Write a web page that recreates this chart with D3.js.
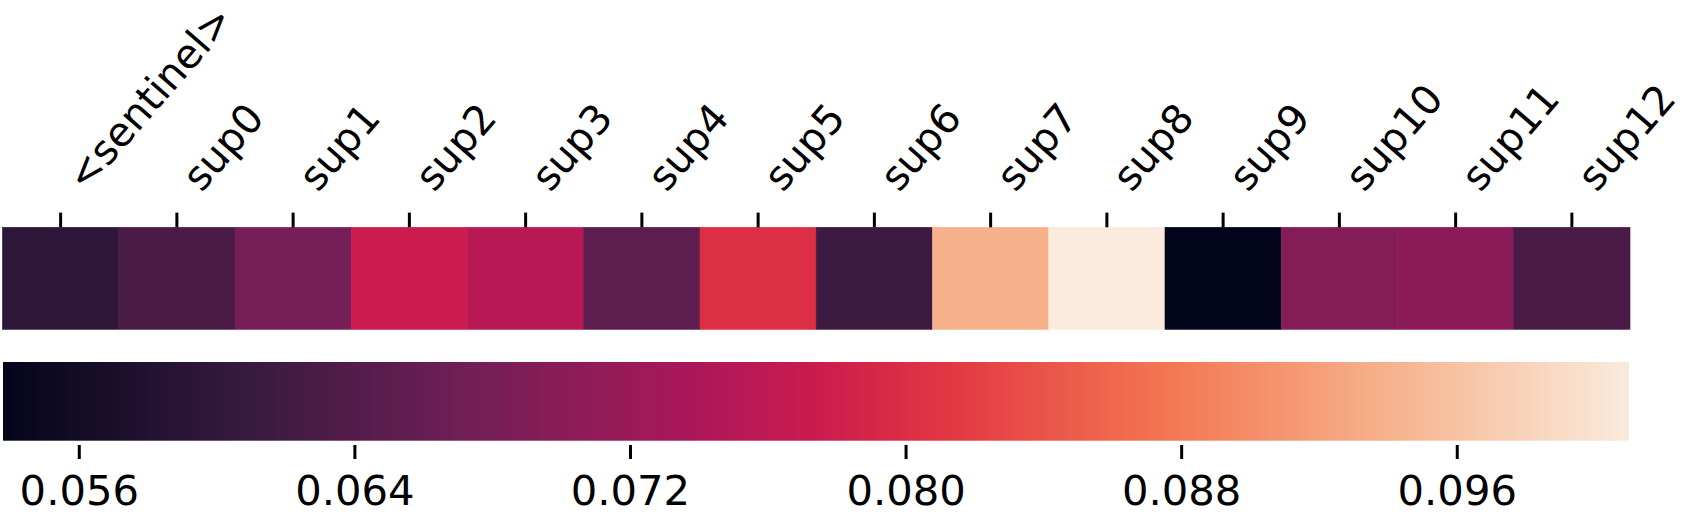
<!DOCTYPE html>
<html>
<head>
<meta charset="utf-8">
<script src="https://cdn.jsdelivr.net/npm/d3@7"></script>
<style>
  body { margin: 0; background: #fff; }
  text { font-family: "DejaVu Sans", sans-serif; fill: #000; }
</style>
</head>
<body>
<div id="wrapper"></div>
<script>
// Data
const labels = ["<sentinel>", "sup0", "sup1", "sup2", "sup3", "sup4", "sup5",
  "sup6", "sup7", "sup8", "sup9", "sup10", "sup11", "sup12"]
const values = [0.0595, 0.0630, 0.0680, 0.0774, 0.0753, 0.0652, 0.0800,
  0.0613, 0.0939, 0.1010, 0.0538, 0.0695, 0.0703, 0.0628]
const colorbarTicks = [0.056, 0.064, 0.072, 0.080, 0.088, 0.096]
const vMin = 0.0538
const vMax = 0.1010

// rocket colormap, sampled
const rocketStops = [0, 1 / 7, 2 / 7, 3 / 7, 0.5, 4 / 7, 5 / 7, 6 / 7, 1]
const rocketColors = ["#03051A", "#35193E", "#701F57", "#AD1759", "#CB1B4F",
  "#E13342", "#F37651", "#F6B48F", "#FAEBDD"]

// dimensions
const dimensions = {
  width: 1682,
  height: 517,
  left: 2.5,
  right: 1630,
  heatTop: 227.3,
  heatBottom: 329.3,
  barTop: 362,
  barBottom: 440.7,
  fontSize: 41.7,
  labelSize: 40.5,
}

const svg = d3.select("#wrapper")
  .append("svg")
    .attr("width", dimensions.width)
    .attr("height", dimensions.height)

// scales
const xScale = d3.scaleBand()
  .domain(labels)
  .range([dimensions.left, dimensions.right])
  .padding(0)

const colorScale = d3.scaleLinear()
  .domain(rocketStops.map(t => vMin + t * (vMax - vMin)))
  .range(rocketColors)
  .interpolate(d3.interpolateRgb)

const barScale = d3.scaleLinear()
  .domain([vMin, vMax])
  .range([dimensions.left + 0.5, dimensions.right - 1])

// draw data
svg.append("g")
  .selectAll("rect")
  .data(labels)
  .join("rect")
    .attr("x", d => xScale(d))
    .attr("y", dimensions.heatTop)
    .attr("width", xScale.bandwidth())
    .attr("height", dimensions.heatBottom - dimensions.heatTop)
    .attr("fill", (d, i) => colorScale(values[i]))
    .attr("stroke", (d, i) => colorScale(values[i]))
    .attr("stroke-width", 0.6)

// top axis with rotated labels
const topAxis = svg.append("g")
  .attr("transform", `translate(0, ${dimensions.heatTop})`)
  .call(d3.axisTop(xScale).tickSize(14.7).tickSizeOuter(0))
topAxis.select(".domain").remove()
topAxis.selectAll(".tick line")
  .attr("stroke", "#000")
  .attr("stroke-width", 3)
topAxis.selectAll(".tick text")
  .attr("x", 0)
  .attr("y", 0)
  .attr("dy", 0)
  .attr("transform", "translate(24.5, -34) rotate(-49)")
  .attr("text-anchor", "start")
  .style("font-size", `${dimensions.labelSize}px`)
  .style("font-family", "DejaVu Sans")

// colorbar
const gradient = svg.append("defs")
  .append("linearGradient")
    .attr("id", "rocket")
    .attr("x1", "0%")
    .attr("x2", "100%")
gradient.selectAll("stop")
  .data(d3.range(0, 1.0001, 0.02))
  .join("stop")
    .attr("offset", d => `${d * 100}%`)
    .attr("stop-color", d => colorScale(vMin + d * (vMax - vMin)))

svg.append("rect")
  .attr("x", barScale.range()[0])
  .attr("y", dimensions.barTop)
  .attr("width", barScale.range()[1] - barScale.range()[0])
  .attr("height", dimensions.barBottom - dimensions.barTop)
  .attr("fill", "url(#rocket)")

const barAxis = svg.append("g")
  .attr("transform", `translate(0, ${dimensions.barBottom + 4.3})`)
  .call(d3.axisBottom(barScale)
    .tickValues(colorbarTicks)
    .tickFormat(d3.format(".3f"))
    .tickSize(14)
    .tickPadding(16)
    .tickSizeOuter(0))
barAxis.select(".domain").remove()
barAxis.selectAll(".tick line")
  .attr("stroke", "#000")
  .attr("stroke-width", 3)
barAxis.selectAll(".tick text")
  .style("font-size", `${dimensions.fontSize}px`)
  .style("font-family", "DejaVu Sans")
</script>
</body>
</html>
